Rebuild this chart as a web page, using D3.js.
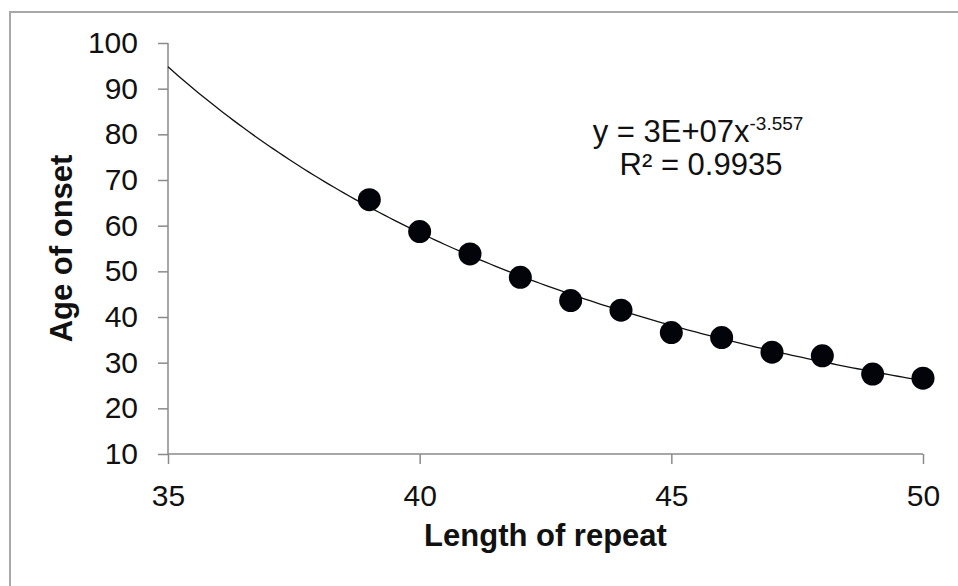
<!DOCTYPE html>
<html>
<head>
<meta charset="utf-8">
<script src="https://cdn.jsdelivr.net/npm/d3@7"></script>
<style>
  html, body { margin: 0; padding: 0; background: #fff; }
  svg { display: block; }
  text { font-family: "Liberation Sans", Arial, sans-serif; fill: #111; }
</style>
</head>
<body>
<svg id="chart" width="958" height="586"></svg>
<script>
// ---- data ----
const repeatLength = [39, 40, 41, 42, 43, 44, 45, 46, 47, 48, 49, 50];
const ageOfOnset   = [65.7, 58.7, 53.8, 48.7, 43.6, 41.5, 36.6, 35.5, 32.3, 31.5, 27.5, 26.6];
const xTicks = [35, 40, 45, 50];
const yTicks = [10, 20, 30, 40, 50, 60, 70, 80, 90, 100];
const xDomain = [35, 50];
const yDomain = [10, 100];
const equationMain = "y = 3E+07x";
const equationExp = "-3.557";
const rSquaredLabel = "R² = 0.9935";
const xTitle = "Length of repeat";
const yTitle = "Age of onset";

(function () {
// ---- power-law trendline fitted to the data (least squares in log-log) ----
const lx = repeatLength.map(Math.log), ly = ageOfOnset.map(Math.log);
const mx = d3.mean(lx), my = d3.mean(ly);
const b = d3.sum(lx.map((v, i) => (v - mx) * (ly[i] - my))) / d3.sum(lx.map(v => (v - mx) ** 2));
const a = Math.exp(my - b * mx);

const svg = d3.select("#chart");

// outer frame
svg.append("rect")
  .attr("x", 10).attr("y", 12).attr("width", 1000).attr("height", 700)
  .attr("fill", "none").attr("stroke", "#a8a8a8").attr("stroke-width", 2);

const mLeft = 168, mRight = 923, mTop = 43, mBottom = 454;
const x = d3.scaleLinear().domain(xDomain).range([mLeft, mRight]);
const y = d3.scaleLinear().domain(yDomain).range([mBottom, mTop]);

const axisColor = "#8a8a8a";

// y axis
const yAxis = svg.append("g").attr("transform", `translate(${mLeft},0)`)
  .call(d3.axisLeft(y).tickValues(yTicks).tickSize(10).tickPadding(20).tickFormat(d3.format("d")));
yAxis.selectAll("path, line").attr("stroke", axisColor).attr("stroke-width", 1.5);
yAxis.selectAll("text").attr("font-size", 30).attr("font-family", "Liberation Sans, Arial, sans-serif").attr("fill", "#111");

// x axis
const xAxis = svg.append("g").attr("transform", `translate(0,${mBottom})`)
  .call(d3.axisBottom(x).tickValues(xTicks).tickSize(10).tickPadding(21).tickFormat(d3.format("d")));
xAxis.selectAll("path, line").attr("stroke", axisColor).attr("stroke-width", 1.5);
xAxis.selectAll("text").attr("font-size", 30).attr("font-family", "Liberation Sans, Arial, sans-serif").attr("fill", "#111");
yAxis.select("path.domain").attr("d", `M0,${mTop}V${mBottom}`);
xAxis.select("path.domain").attr("d", `M${mLeft},0H${mRight}`);

// trendline
const curveX = d3.range(xDomain[0], xDomain[1] + 0.001, 0.1);
svg.append("path")
  .datum(curveX)
  .attr("d", d3.line().x(d => x(d)).y(d => y(a * Math.pow(d, b))))
  .attr("fill", "none").attr("stroke", "#111").attr("stroke-width", 1.3);

// points
svg.append("g").selectAll("circle")
  .data(repeatLength.map((d, i) => [d, ageOfOnset[i]]))
  .join("circle")
  .attr("cx", d => x(d[0])).attr("cy", d => y(d[1])).attr("r", 11.5)
  .attr("fill", "#02040a");

// equation
const eq = svg.append("text").attr("x", 698).attr("y", 142).attr("text-anchor", "middle").attr("font-size", 31);
eq.append("tspan").text(equationMain);
eq.append("tspan").attr("font-size", 19).attr("dy", -12).text(equationExp);
svg.append("text").attr("x", 701).attr("y", 175).attr("text-anchor", "middle").attr("font-size", 31).text(rSquaredLabel);

// axis titles
svg.append("text").attr("x", (mLeft + mRight) / 2).attr("y", 546).attr("text-anchor", "middle")
  .attr("font-size", 31).attr("font-weight", "bold").text(xTitle);
svg.append("text").attr("transform", `translate(72,${(mTop + mBottom) / 2}) rotate(-90)`)
  .attr("text-anchor", "middle").attr("font-size", 31).attr("font-weight", "bold").text(yTitle);
})();
</script>
</body>
</html>
